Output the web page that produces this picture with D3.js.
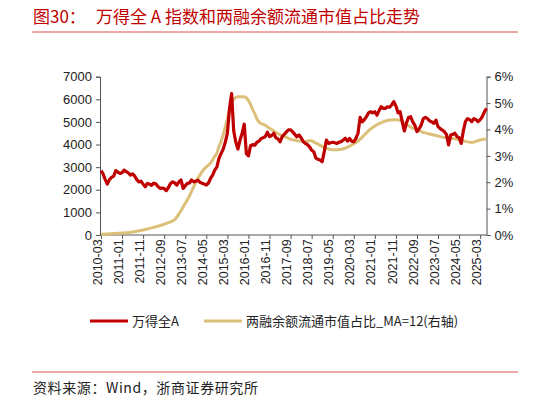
<!DOCTYPE html>
<html lang="zh">
<head>
<meta charset="UTF-8">
<title>万得全A指数和两融余额流通市值占比走势</title>
<script src="https://cdnjs.cloudflare.com/ajax/libs/d3/7.8.5/d3.min.js"></script>
<style>
    body { margin: 0; background: #fff; }
    svg { display: block; }
    .tick text { font-family: 'Liberation Sans', Arial, sans-serif; fill: #222; }
</style>
</head>
<body>
<svg id="chart" width="548" height="403"></svg>
<script>
// 万得全A 指数（月度，读图估计），从 2010-03 开始
const windA = [
    2850, 2700, 2450, 2250, 2450, 2550, 2600, 2850, 2780, 2720,
    2750, 2870, 2800, 2750, 2650, 2700, 2600, 2450, 2350, 2380,
    2250, 2130, 2280, 2250, 2200, 2290, 2260, 2150, 2060, 2080,
    2050, 1960, 2100, 2280, 2350, 2300, 2210, 2350, 2430, 2060,
    2180, 2280, 2300, 2430, 2350, 2380, 2430, 2330, 2285, 2250,
    2210, 2300, 2500, 2650, 2870, 3000, 3390, 3600, 3800, 4100,
    4500, 5600, 6250, 4600, 4100, 3800, 4200, 4500, 4900, 3600,
    3500, 3950, 4000, 3970, 4100, 4150, 4270, 4300, 4350, 4550,
    4350, 4400, 4500, 4300, 4250, 4120, 4350, 4450, 4560, 4650,
    4650, 4560, 4450, 4340, 4420, 4300, 4130, 4050, 4000, 3900,
    3750, 3680, 3400, 3350, 3320, 3240, 3700, 4200, 4050, 4080,
    4100, 4080, 4050, 4100, 4130, 4200, 4280, 4150, 4270, 4150,
    4120, 4270, 4500, 5200, 5000, 5100, 5230, 5400, 5450, 5400,
    5450, 5300, 5500, 5670, 5600, 5600, 5670, 5650, 5750, 5900,
    5700, 5400, 5450, 5000, 4600, 4950, 5200, 5230, 5000, 4850,
    4570, 4700, 4860, 5150, 5200, 5150, 5050, 5000, 4940, 5080,
    4790, 4700, 4640, 4570, 4450, 3980, 4420, 4450, 4500, 4350,
    4300, 4050, 4600, 5010, 5150, 5100, 5010, 5150, 5100, 5010,
    5100, 5230, 5450, 5600
];
// 两融余额流通市值占比 MA=12（%，右轴）
const marginRatio = [
    0.03, 0.03, 0.04, 0.04, 0.05, 0.05, 0.06, 0.06, 0.07, 0.07,
    0.08, 0.08, 0.09, 0.09, 0.10, 0.11, 0.13, 0.14, 0.16, 0.17,
    0.19, 0.21, 0.23, 0.25, 0.27, 0.29, 0.31, 0.33, 0.36, 0.38,
    0.41, 0.44, 0.47, 0.50, 0.54, 0.58, 0.68, 0.80, 0.92, 1.06,
    1.20, 1.33, 1.48, 1.65, 1.83, 2.00, 2.15, 2.28, 2.40, 2.50,
    2.58, 2.65, 2.73, 2.85, 2.98, 3.10, 3.35, 3.55, 3.80, 4.10,
    4.40, 4.75, 5.00, 5.15, 5.22, 5.24, 5.24, 5.24, 5.24, 5.20,
    5.10, 4.95, 4.75, 4.60, 4.40, 4.28, 4.22, 4.19, 4.16, 4.10,
    4.05, 4.00, 3.95, 3.88, 3.84, 3.80, 3.77, 3.74, 3.70, 3.66,
    3.63, 3.61, 3.60, 3.57, 3.56, 3.55, 3.54, 3.54, 3.56, 3.57,
    3.57, 3.53, 3.48, 3.45, 3.40, 3.36, 3.32, 3.29, 3.26, 3.24,
    3.23, 3.23, 3.23, 3.24, 3.25, 3.27, 3.29, 3.33, 3.37, 3.41,
    3.46, 3.50, 3.56, 3.63, 3.71, 3.79, 3.87, 3.95, 4.02, 4.08,
    4.13, 4.18, 4.22, 4.26, 4.29, 4.32, 4.34, 4.36, 4.36, 4.37,
    4.37, 4.36, 4.35, 4.31, 4.25, 4.20, 4.14, 4.09, 4.05, 4.02,
    3.98, 3.95, 3.92, 3.89, 3.87, 3.85, 3.83, 3.81, 3.79, 3.77,
    3.75, 3.73, 3.71, 3.70, 3.69, 3.68, 3.67, 3.66, 3.65, 3.63,
    3.61, 3.59, 3.57, 3.55, 3.53, 3.52, 3.51, 3.52, 3.55, 3.58,
    3.60, 3.62, 3.63, 3.64
];
const leftTicks = [0, 1000, 2000, 3000, 4000, 5000, 6000, 7000];
const rightTicks = [0, 1, 2, 3, 4, 5, 6];

// 月份类别 2010-03 起
const months = windA.map((d, i) => {
    const m = 2 + i;
    const y = 2010 + Math.floor(m / 12);
    return y + '-' + String(m % 12 + 1).padStart(2, '0');
});
const labelMonths = months.filter((d, i) => i % 10 === 0);

const svg = d3.select('#chart');
const cjk = "'Noto Sans CJK SC', sans-serif";
const red = '#c00000', gold = '#dcc07a';

// 标题
svg.append('text').attr('x', 33).attr('y', 23)
    .attr('font-family', cjk).attr('font-size', 17).attr('fill', red)
    .text('图30：');
svg.append('text').attr('x', 96).attr('y', 23)
    .attr('font-family', cjk).attr('font-size', 17).attr('fill', red)
    .text('万得全 A 指数和两融余额流通市值占比走势');
svg.append('line').attr('x1', 32).attr('x2', 518).attr('y1', 32).attr('y2', 32)
    .attr('stroke', '#d9534f').attr('stroke-width', 1);

const x = d3.scalePoint().domain(months).range([101, 486.5]);
const yL = d3.scaleLinear().domain([0, 7000]).range([235, 76.7]);
const yR = d3.scaleLinear().domain([0, 6]).range([235, 76.7]);

// 坐标轴
const gx = svg.append('g').attr('transform', 'translate(0,235)')
    .call(d3.axisBottom(x).tickValues(labelMonths).tickSize(4).tickPadding(3));
gx.selectAll('text')
    .attr('transform', 'rotate(-90)')
    .attr('text-anchor', 'end')
    .attr('dx', '-0.35em').attr('dy', '-0.55em')
    .attr('font-size', 12.5);
gx.select('.domain').attr('d', 'M100,0H486.5');

const gl = svg.append('g').attr('transform', 'translate(100,0)')
    .call(d3.axisLeft(yL).tickValues(leftTicks).tickSize(4).tickPadding(4).tickFormat(d3.format('d')));
gl.selectAll('text').attr('font-size', 13);

const gr = svg.append('g').attr('transform', 'translate(486.5,0)')
    .call(d3.axisRight(yR).tickValues(rightTicks).tickSize(4).tickPadding(4).tickFormat(d => d + '%'));
gr.selectAll('text').attr('font-size', 13);

svg.selectAll('.domain, .tick line').attr('stroke', '#555');

// 折线
const lineR = d3.line().x((d, i) => x(months[i])).y(d => yR(d));
const lineL = d3.line().x((d, i) => x(months[i])).y(d => yL(d));

svg.append('path').datum(marginRatio).attr('d', lineR)
    .attr('fill', 'none').attr('stroke', gold).attr('stroke-width', 3)
    .attr('stroke-linejoin', 'round');
svg.append('path').datum(windA).attr('d', lineL)
    .attr('fill', 'none').attr('stroke', red).attr('stroke-width', 3.2)
    .attr('stroke-linejoin', 'round');

// 图例
const legend = [
    { name: '万得全A', color: red, x: 90 },
    { name: '两融余额流通市值占比_MA=12(右轴)', color: gold, x: 204 }
];
const lg = svg.append('g').selectAll('g').data(legend).enter().append('g')
    .attr('transform', d => 'translate(' + d.x + ',321)');
lg.append('line').attr('x1', 0).attr('x2', 38).attr('y1', 0).attr('y2', 0)
    .attr('stroke', d => d.color).attr('stroke-width', 3.2);
lg.append('text').attr('x', 42).attr('y', 4.5)
    .attr('font-family', cjk).attr('font-size', 13).attr('fill', '#222')
    .text(d => d.name);

// 资料来源
svg.append('line').attr('x1', 32).attr('x2', 518).attr('y1', 372).attr('y2', 372)
    .attr('stroke', '#d9534f').attr('stroke-width', 1);
svg.append('text').attr('x', 33).attr('y', 393)
    .attr('font-family', cjk).attr('font-size', 14).attr('letter-spacing', 0.6).attr('fill', '#222')
    .text('资料来源：Wind，浙商证券研究所');
</script>
</body>
</html>
